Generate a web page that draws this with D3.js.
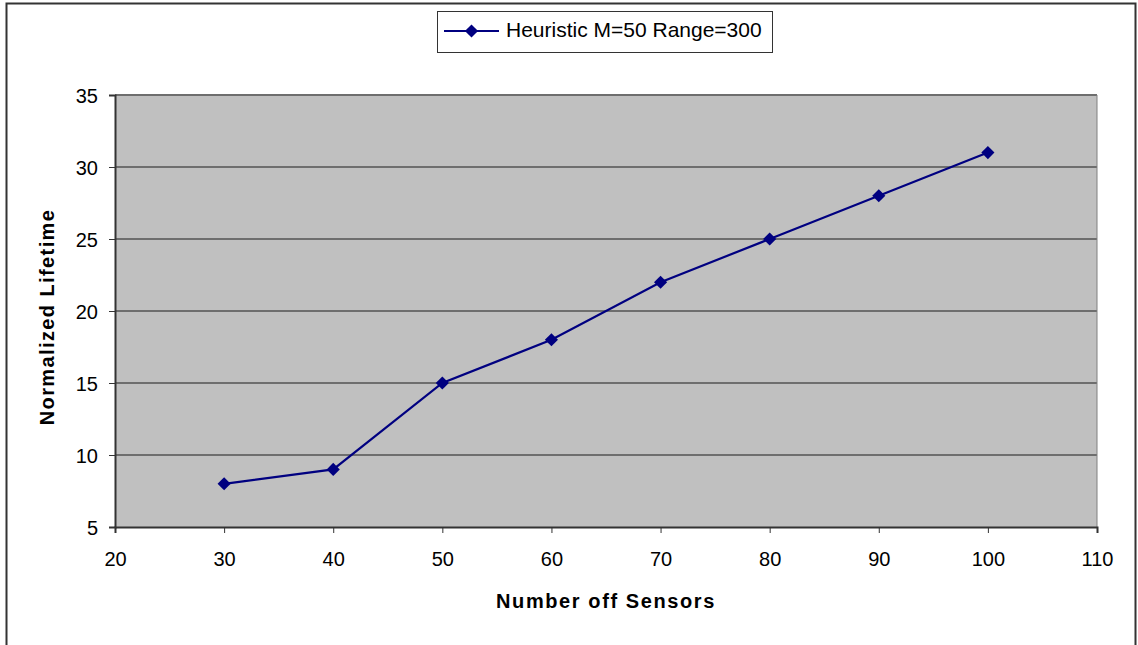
<!DOCTYPE html>
<html>
<head>
<meta charset="utf-8">
<script src="https://cdn.jsdelivr.net/npm/d3@7"></script>
<style>
  html, body { margin: 0; padding: 0; background: #fff; }
  svg { display: block; font-family: Arial, "Liberation Sans", sans-serif; }
</style>
</head>
<body>
<svg id="chart" width="1138" height="645"></svg>
<script>
// Lifetime vs. number of sensors for the heuristic (M=50, range 300)
const sensors = [30, 40, 50, 60, 70, 80, 90, 100];
const lifetime = [8, 9, 15, 18, 22, 25, 28, 31];
const xTicks = [20, 30, 40, 50, 60, 70, 80, 90, 100, 110];
const yTicks = [5, 10, 15, 20, 25, 30, 35];
const seriesName = "Heuristic M=50 Range=300";
const xTitle = "Number off Sensors";
const yTitle = "Normalized Lifetime";

const svg = d3.select("#chart");
const plot = { left: 115, top: 95, right: 1097, bottom: 527 };

const x = d3.scaleLinear().domain([20, 110]).range([plot.left, plot.right]);
const y = d3.scaleLinear().domain([5, 35]).range([plot.bottom, plot.top]);

// outer chart frame (open at the bottom)
svg.append("path")
  .attr("d", "M6.5,645 V3.5 H1135.5 V645")
  .attr("fill", "none").attr("stroke", "#333").attr("stroke-width", 2);

// plot background
svg.append("rect")
  .attr("x", plot.left).attr("y", plot.top)
  .attr("width", plot.right - plot.left).attr("height", plot.bottom - plot.top)
  .attr("fill", "#c0c0c0");

// horizontal gridlines
svg.append("g").selectAll("line")
  .data(yTicks.filter(d => d !== 5))
  .join("line")
  .attr("x1", plot.left).attr("x2", plot.right)
  .attr("y1", d => y(d)).attr("y2", d => y(d))
  .attr("stroke", "#6e6e6e").attr("stroke-width", 2);

// right border of plot area
svg.append("line")
  .attr("x1", plot.right).attr("x2", plot.right)
  .attr("y1", plot.top).attr("y2", plot.bottom)
  .attr("stroke", "#808080").attr("stroke-width", 1);

// axes
const xAxis = d3.axisBottom(x).tickValues(xTicks).tickSize(6).tickPadding(0);
const yAxis = d3.axisLeft(y).tickValues(yTicks).tickSize(6).tickPadding(11);

const gx = svg.append("g").attr("transform", `translate(0,${plot.bottom})`).call(xAxis);
const gy = svg.append("g").attr("transform", `translate(${plot.left},0)`).call(yAxis);

[gx, gy].forEach(g => {
  g.select(".domain").attr("stroke", "#333").attr("stroke-width", 2);
  g.selectAll(".tick line").attr("stroke", "#333").attr("stroke-width", 1);
  g.selectAll(".tick text")
    .attr("font-size", 20).attr("fill", "#000")
    .attr("font-family", "Arial, 'Liberation Sans', sans-serif");
});
gx.selectAll(".tick text").attr("dy", null).attr("y", 39);
gy.selectAll(".tick text").attr("dy", "0.36em");

// axis titles
svg.append("text")
  .attr("x", (plot.left + plot.right) / 2).attr("y", 608)
  .attr("text-anchor", "middle")
  .attr("font-size", 20).attr("font-weight", "bold")
  .attr("letter-spacing", 1.6)
  .text(xTitle);

svg.append("text")
  .attr("transform", `translate(54,${(plot.top + plot.bottom) / 2 + 6}) rotate(-90)`)
  .attr("text-anchor", "middle")
  .attr("font-size", 20).attr("font-weight", "bold")
  .attr("letter-spacing", 1.4)
  .text(yTitle);

// series line
const pts = sensors.map((s, i) => [s, lifetime[i]]);
svg.append("path")
  .datum(pts)
  .attr("fill", "none").attr("stroke", "#000080").attr("stroke-width", 2.2)
  .attr("d", d3.line().x(d => x(d[0])).y(d => y(d[1])));

const diamond = d3.symbol().type(d3.symbolDiamond2).size(110);
svg.append("g").selectAll("path")
  .data(pts)
  .join("path")
  .attr("transform", d => `translate(${x(d[0])},${y(d[1])})`)
  .attr("d", diamond)
  .attr("fill", "#000080");

// legend
const lg = svg.append("g");
lg.append("rect")
  .attr("x", 437.5).attr("y", 11.5).attr("width", 335).attr("height", 41)
  .attr("fill", "#fff").attr("stroke", "#333").attr("stroke-width", 1);
lg.append("line")
  .attr("x1", 444).attr("x2", 499).attr("y1", 31).attr("y2", 31)
  .attr("stroke", "#000080").attr("stroke-width", 2.2);
lg.append("path")
  .attr("transform", "translate(471.5,31)")
  .attr("d", diamond)
  .attr("fill", "#000080");
lg.append("text")
  .attr("x", 506).attr("y", 37)
  .attr("font-size", 21)
  .text(seriesName);
</script>
</body>
</html>
